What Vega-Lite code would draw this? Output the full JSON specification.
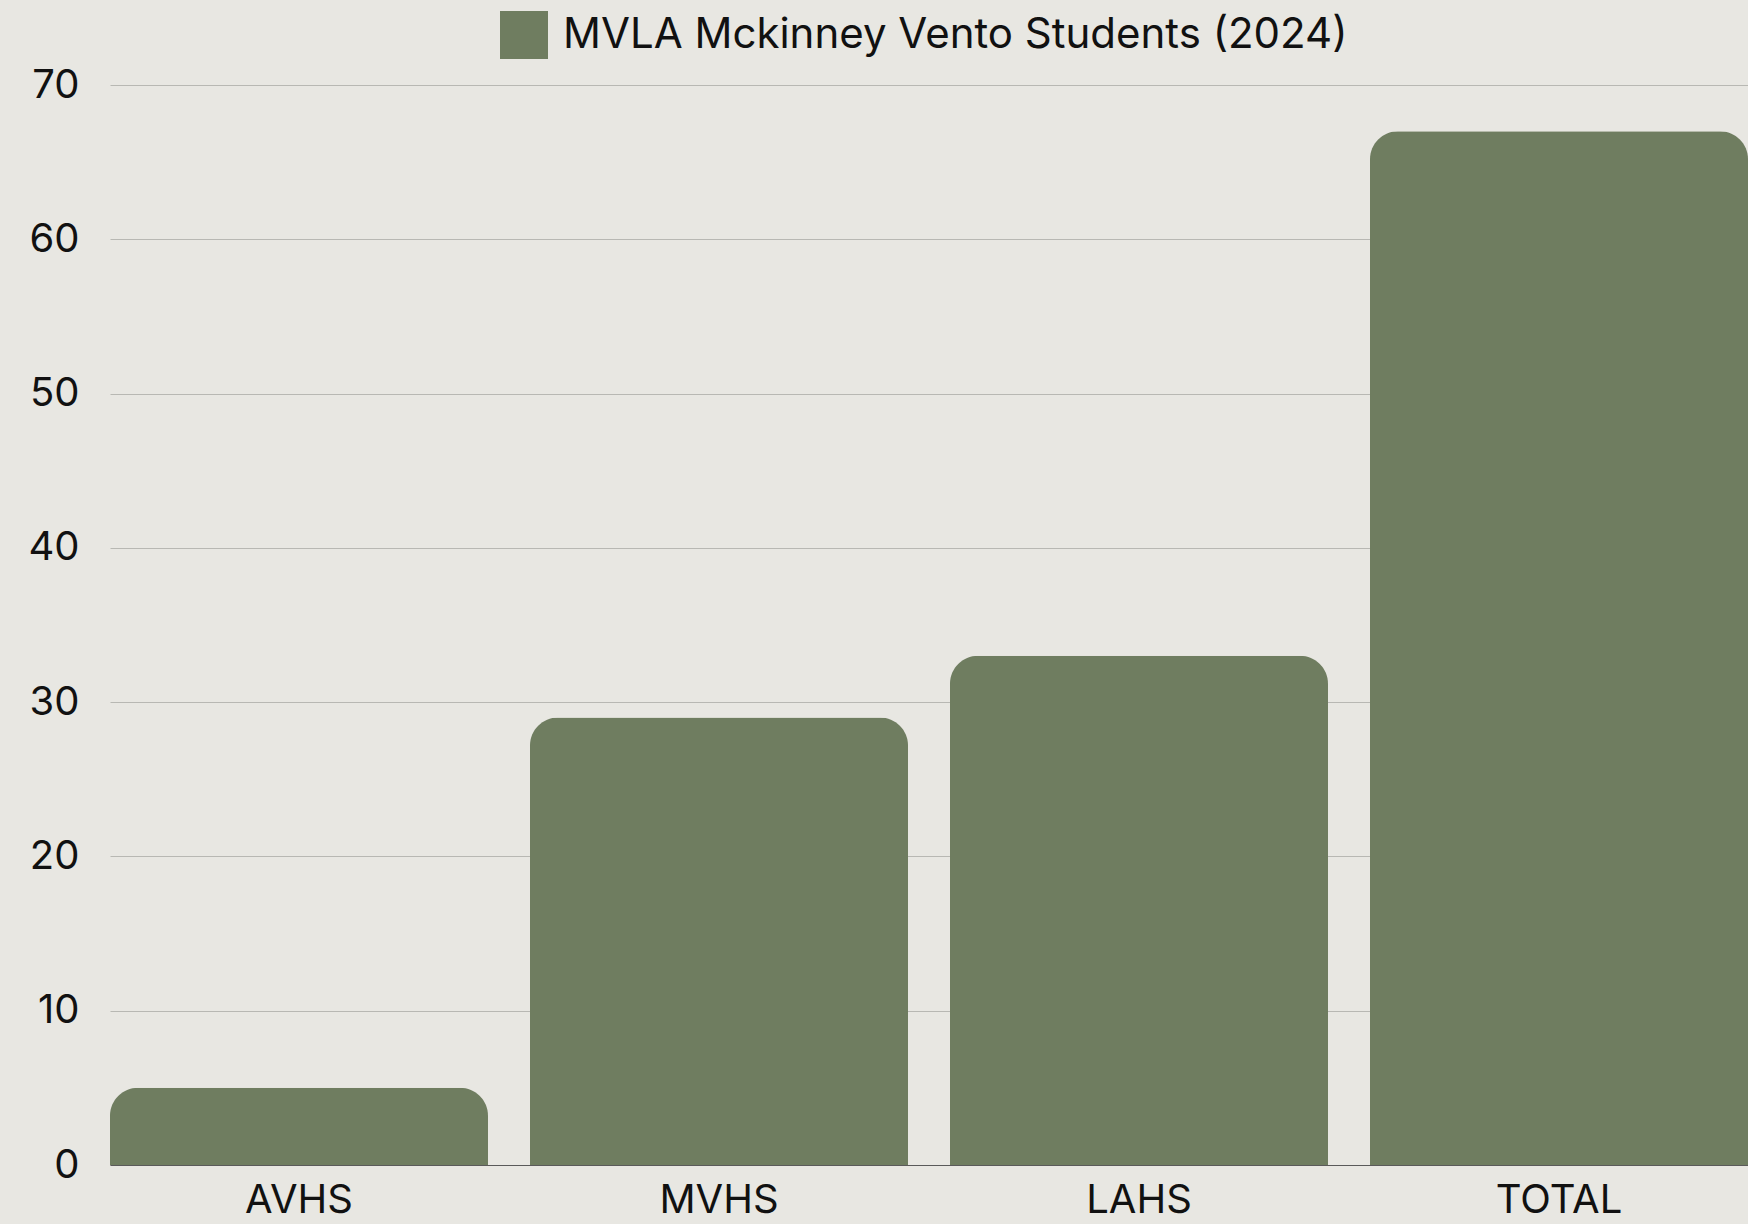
{
  "$schema": "https://vega.github.io/schema/vega-lite/v6.json",
  "width": 1638,
  "height": 1080,
  "autosize": {"type": "none"},
  "padding": {"left": 110, "top": 85, "right": 0, "bottom": 59},
  "background": "#E8E7E2",
  "data": {
    "values": [
      {"school": "AVHS", "students": 5, "series": "MVLA Mckinney Vento Students (2024)"},
      {"school": "MVHS", "students": 29, "series": "MVLA Mckinney Vento Students (2024)"},
      {"school": "LAHS", "students": 33, "series": "MVLA Mckinney Vento Students (2024)"},
      {"school": "TOTAL", "students": 67, "series": "MVLA Mckinney Vento Students (2024)"}
    ]
  },
  "mark": {"type": "bar", "cornerRadiusTopLeft": 28, "cornerRadiusTopRight": 28},
  "encoding": {
    "x": {
      "field": "school",
      "type": "nominal",
      "sort": null,
      "scale": {"paddingInner": 0.1, "paddingOuter": 0},
      "axis": {
        "title": null,
        "labelAngle": 0,
        "ticks": false,
        "grid": false,
        "domain": true,
        "domainColor": "#5a5a5a",
        "domainWidth": 1,
        "labelFont": "Inter",
        "labelFontSize": 40,
        "labelColor": "#111111",
        "labelPadding": 15
      }
    },
    "y": {
      "field": "students",
      "type": "quantitative",
      "scale": {"domain": [0, 70], "nice": false},
      "axis": {
        "title": null,
        "values": [0, 10, 20, 30, 40, 50, 60, 70],
        "domain": false,
        "ticks": false,
        "grid": true,
        "gridColor": "#B8B8B3",
        "gridWidth": 1,
        "labelFont": "Inter",
        "labelFontSize": 40,
        "labelColor": "#111111",
        "labelPadding": 31
      }
    },
    "color": {
      "field": "series",
      "type": "nominal",
      "scale": {"range": ["#6F7D60"]},
      "legend": {
        "title": null,
        "orient": "none",
        "legendX": 390,
        "legendY": -74,
        "symbolType": "square",
        "symbolSize": 2304,
        "symbolStrokeWidth": 0,
        "symbolOpacity": 1,
        "labelFont": "Inter",
        "labelFontSize": 42,
        "labelColor": "#111111",
        "labelOffset": 15,
        "labelLimit": 2000,
        "padding": 0
      }
    }
  },
  "config": {"view": {"stroke": null}}
}
